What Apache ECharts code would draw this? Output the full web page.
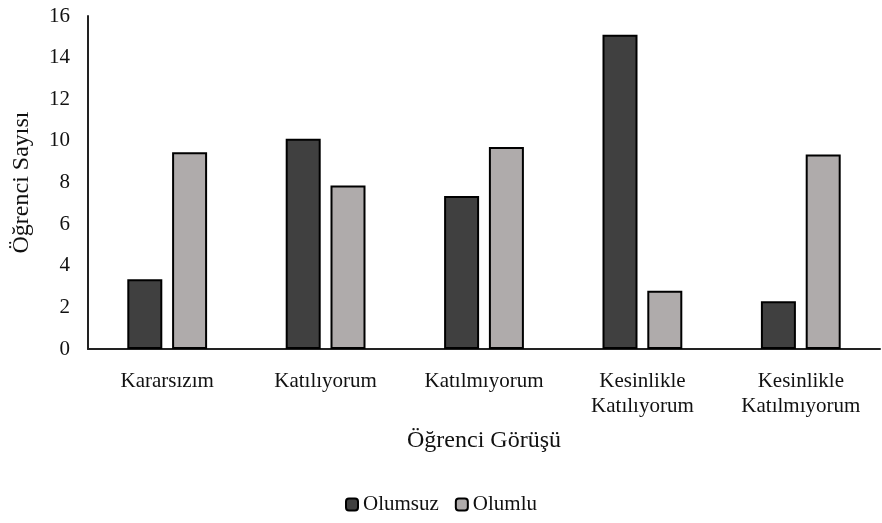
<!DOCTYPE html>
<html><head><meta charset="utf-8">
<script src="https://cdn.jsdelivr.net/npm/echarts@6/dist/echarts.min.js"></script>
<style>html,body{margin:0;padding:0;background:#fff}#c{width:882px;height:523px}</style>
</head><body><div id="c"></div>
<script>
const categories = ['Kararsızım', 'Katılıyorum', 'Katılmıyorum', 'Kesinlikle\nKatılıyorum', 'Kesinlikle\nKatılmıyorum'];
const olumsuz = [3.35, 10.1, 7.35, 15.1, 2.3];
const olumlu = [9.45, 7.85, 9.7, 2.8, 9.35];
const yTicks = [0, 2, 4, 6, 8, 10, 12, 14, 16];
const font = 'Liberation Serif, Times New Roman, serif';
const chart = echarts.init(document.getElementById('c'));
chart.setOption({
  animation: false,
  textStyle: { fontFamily: font, color: '#111' },
  grid: { left: 88, right: 2, top: 16, bottom: 174, containLabel: false, outerBoundsMode: 'none' },
  legend: {
    bottom: 3, left: 'center', itemWidth: 12, itemHeight: 12, itemGap: 16,
    textStyle: { fontFamily: font, fontSize: 21, color: '#111' },
    data: ['Olumsuz', 'Olumlu']
  },
  xAxis: {
    type: 'category', data: categories,
    name: 'Öğrenci Görüşü', nameLocation: 'middle', nameGap: 80,
    nameTextStyle: { fontFamily: font, fontSize: 24, color: '#111' },
    axisLine: { lineStyle: { color: '#222', width: 2 } },
    axisTick: { show: false },
    axisLabel: { fontFamily: font, fontSize: 21, color: '#111', margin: 20, lineHeight: 25 }
  },
  yAxis: {
    type: 'value', min: yTicks[0], max: yTicks[yTicks.length - 1], interval: 2,
    name: 'Öğrenci Sayısı', nameLocation: 'middle', nameGap: 54,
    nameTextStyle: { fontFamily: font, fontSize: 24, color: '#111' },
    axisLine: { show: true, lineStyle: { color: '#222', width: 2 } },
    axisTick: { show: false },
    splitLine: { show: false },
    axisLabel: { fontFamily: font, fontSize: 21, color: '#111', margin: 18 }
  },
  series: [
    { name: 'Olumsuz', type: 'bar', data: olumsuz, barWidth: 35, barGap: '28%',
      itemStyle: { color: '#404040', borderColor: '#000', borderWidth: 2 } },
    { name: 'Olumlu', type: 'bar', data: olumlu, barWidth: 35, barGap: '28%',
      itemStyle: { color: '#AFABAB', borderColor: '#000', borderWidth: 2 } }
  ]
});
</script></body></html>
